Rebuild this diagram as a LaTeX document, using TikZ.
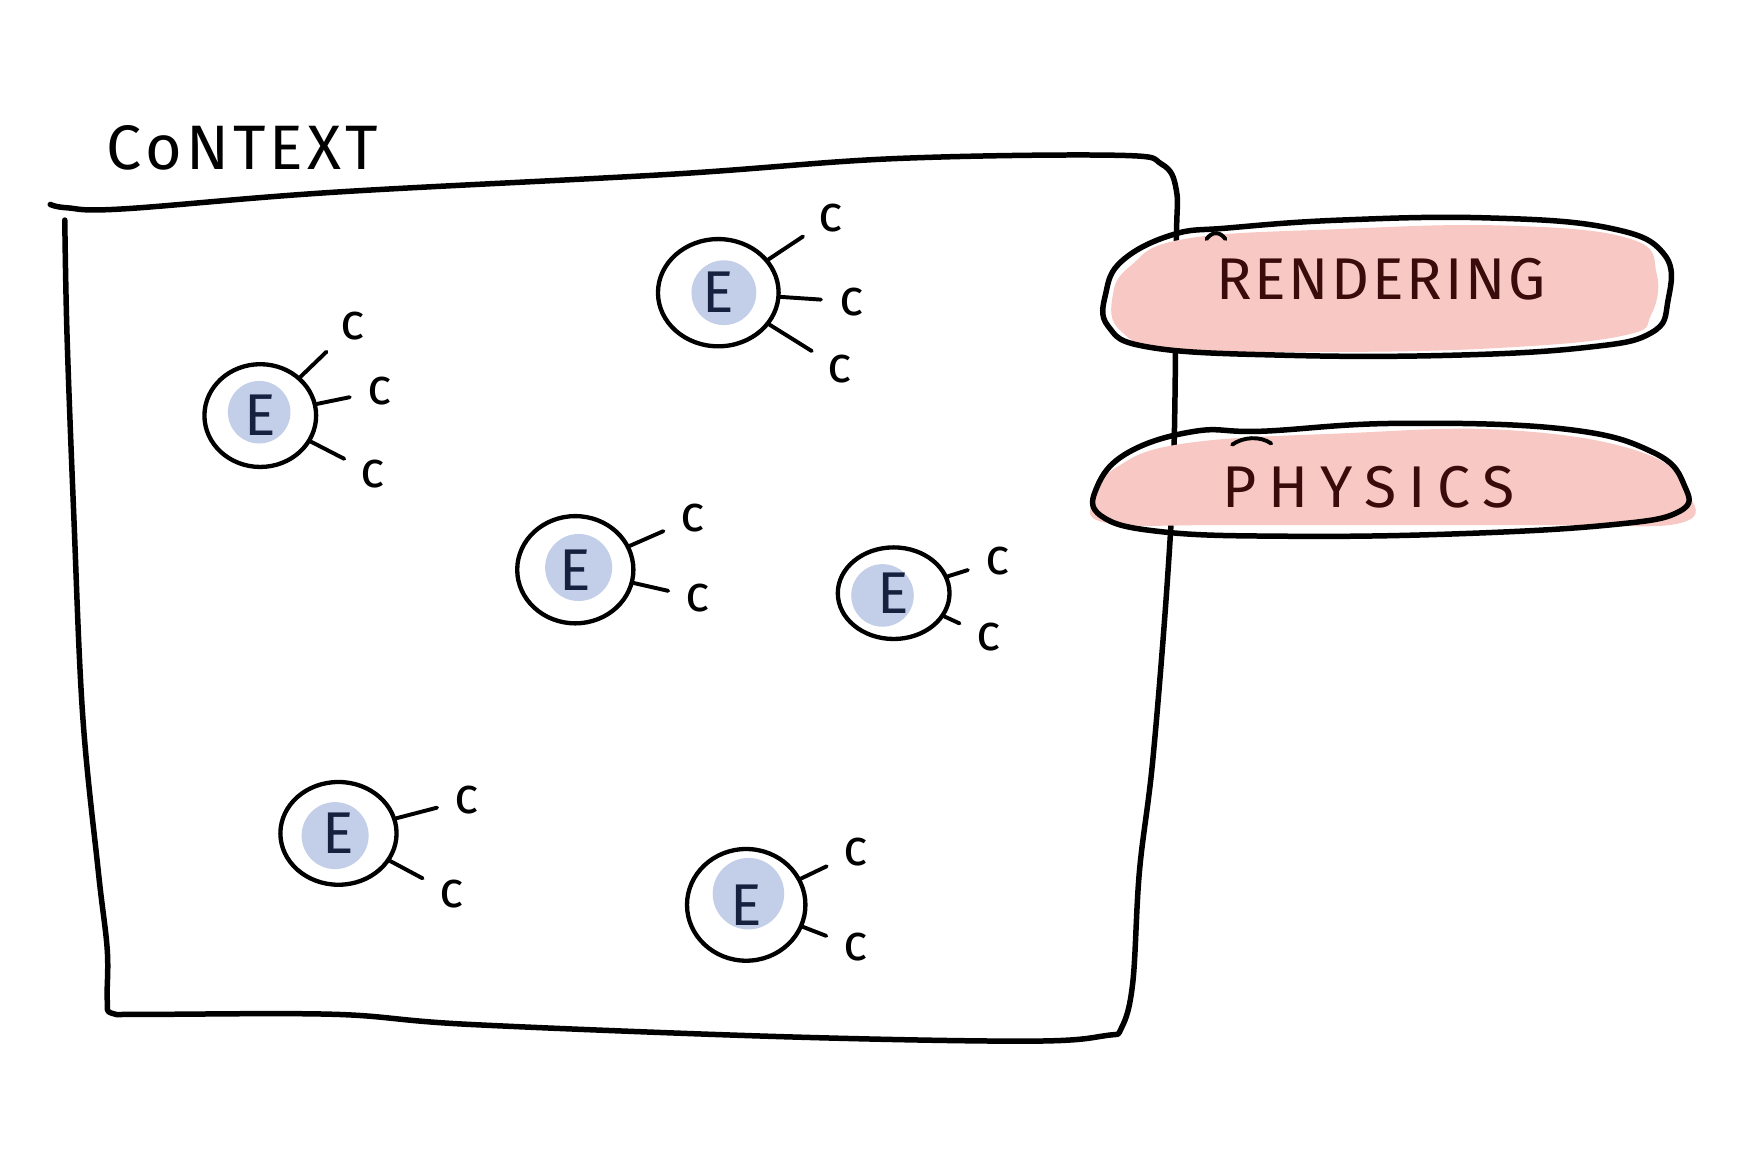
\documentclass[tikz,border=0pt]{standalone}
\usepackage{fontspec}
\setmainfont{Fira Sans}
\usetikzlibrary{shapes.geometric}
\definecolor{pinkfill}{HTML}{F8C9C4}
\definecolor{bluefill}{HTML}{C3CFE9}
\definecolor{darkred}{HTML}{3A0B0B}
\definecolor{navy}{HTML}{16203F}
\tikzset{
  outline/.style={line width=1.4pt, line cap=round, line join=round},
  ecirc/.style={ellipse, draw, line width=1.1pt, inner sep=0pt, font=\fontsize{15}{15}\selectfont, text=navy},
  clab/.style={inner sep=1pt, font=\fontsize{13}{13}\selectfont},
  conn/.style={line width=1pt, line cap=round, shorten >=1.2mm},
  blob/.style={fill=bluefill},
  pinkblob/.style={fill=pinkfill},
  tagtext/.style={text=darkred, font=\fontsize{15}{15}\selectfont}
}
\begin{document}
\begin{tikzpicture}[x=0.1mm,y=-0.1mm]
\useasboundingbox[fill=white] (0,0) rectangle (1563,1031);
% context title
\node[font=\fontsize{16}{16}\selectfont, anchor=south west, inner sep=0pt] (ctx) at (95,153) {C\kern1pt o\kern1pt N\kern1pt T\kern1pt E\kern1pt X\kern1pt T};
% context box
\draw[outline] plot[smooth, tension=0.6] coordinates {(45,183) (60,186) (110,187) (300,172) (600,156) (800,142) (1000,139) (1040,147) (1053,170) (1053,220) (1051,400) (1045,520) (1032,680) (1020,780) (1014,880) (1004,920) (990,927) (920,932) (700,928) (420,917) (300,908) (130,908) (100,907) (96,895) (96,850) (88,780) (74,640) (66,460) (60,300) (58,197)};
% rendering
\fill[pinkblob] plot[smooth cycle, tension=0.7] coordinates {(1060,214) (1200,205) (1350,202) (1460,214) (1483,245) (1478,282) (1455,300) (1350,311) (1200,315) (1050,312) (1003,296) (996,265) (1012,238)};
\draw[outline] plot[smooth cycle, tension=0.7] coordinates {(1100,204) (1200,197) (1330,195) (1440,204) (1490,228) (1493,270) (1478,298) (1420,311) (1300,318) (1150,318) (1030,311) (992,292) (990,262) (1005,233) (1050,210)};
\draw[line width=1pt, line cap=round] (1080,214) .. controls (1085,207) and (1092,207) .. (1097,214);
\node[tagtext] (rend) at (1236,250) {R\kern0.7pt E\kern0.7pt N\kern0.7pt D\kern0.7pt E\kern0.7pt R\kern0.7pt I\kern0.7pt N\kern0.7pt G};
% physics
\fill[pinkblob] plot[smooth cycle, tension=0.7] coordinates {(1060,397) (1200,388) (1350,385) (1470,405) (1510,440) (1505,468) (1400,470) (1250,470) (1100,470) (990,468) (980,445) (1000,418)};
\draw[outline] plot[smooth cycle, tension=0.7] coordinates {(1130,386) (1250,379) (1400,384) (1480,405) (1508,435) (1503,458) (1440,470) (1300,478) (1150,480) (1040,476) (986,462) (982,436) (1010,405) (1070,386)};
\draw[line width=1pt, line cap=round] (1103,398) .. controls (1113,391) and (1128,390) .. (1138,397);
\node[tagtext] (phys) at (1225,436) {P\kern3pt H\kern3pt Y\kern3pt S\kern3pt I\kern3pt C\kern3pt S};
% blue blobs
\fill[blob] (232,369) circle [radius=2.8mm];
\fill[blob] (648,262) circle [radius=2.9mm];
\fill[blob] (518,508) circle [radius=3.0mm];
\fill[blob] (790,533) circle [radius=2.8mm];
\fill[blob] (300,748) circle [radius=3.0mm];
\fill[blob] (670,800) circle [radius=3.2mm];
% entities
\node[ecirc, minimum width=10mm, minimum height=9.2mm] (e1) at (233,372) {E};
\node[ecirc, minimum width=10.8mm, minimum height=9.6mm] (e2) at (643,262) {E};
\node[ecirc, minimum width=10.4mm, minimum height=9.6mm] (e3) at (515,510) {E};
\node[ecirc, minimum width=10mm, minimum height=8.2mm] (e4) at (800,531) {E};
\node[ecirc, minimum width=10.4mm, minimum height=9.2mm] (e5) at (303,746) {E};
\node[ecirc, minimum width=10.6mm, minimum height=10mm] (e6) at (668,810) {E};
% components
\node[clab] (c11) at (316,292) {c};
\node[clab] (c12) at (340,350) {c};
\node[clab] (c13) at (334,424) {c};
\node[clab] (c21) at (744,195) {c};
\node[clab] (c22) at (762,270) {c};
\node[clab] (c23) at (752,330) {c};
\node[clab] (c31) at (620,464) {c};
\node[clab] (c32) at (625,535) {c};
\node[clab] (c41) at (893,502) {c};
\node[clab] (c42) at (885,570) {c};
\node[clab] (c51) at (418,716) {c};
\node[clab] (c52) at (404,800) {c};
\node[clab] (c61) at (766,763) {c};
\node[clab] (c62) at (766,848) {c};
% connectors
\draw[conn] (e1) -- (c11);
\draw[conn] (e1) -- (c12);
\draw[conn] (e1) -- (c13);
\draw[conn] (e2) -- (c21);
\draw[conn] (e2) -- (c22);
\draw[conn] (e2) -- (c23);
\draw[conn] (e3) -- (c31);
\draw[conn] (e3) -- (c32);
\draw[conn] (e4) -- (c41);
\draw[conn] (e4) -- (c42);
\draw[conn] (e5) -- (c51);
\draw[conn] (e5) -- (c52);
\draw[conn] (e6) -- (c61);
\draw[conn] (e6) -- (c62);
\end{tikzpicture}
\end{document}
